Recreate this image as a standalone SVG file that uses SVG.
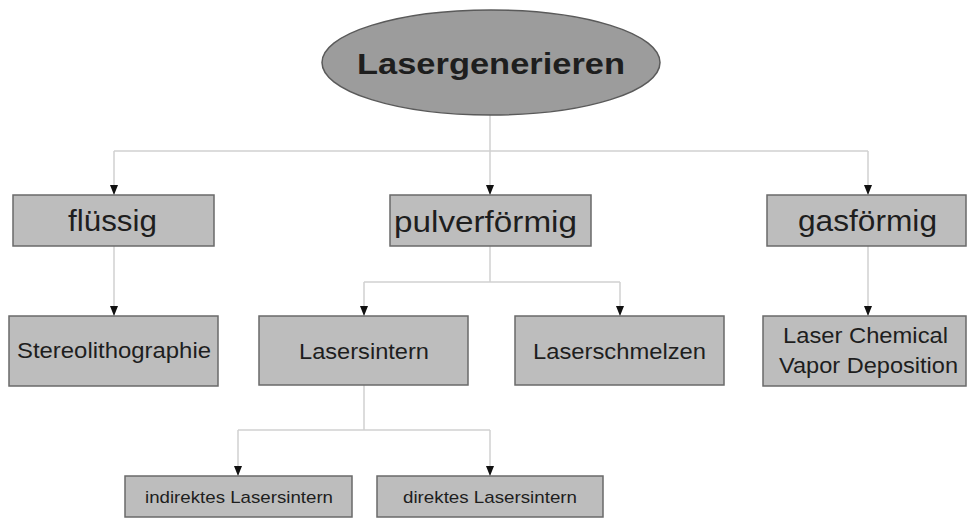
<svg xmlns="http://www.w3.org/2000/svg" width="968" height="518" viewBox="0 0 968 518">
<style>
.box{fill:#bdbdbd;stroke:#6a6a6a;stroke-width:1.5}
.root{fill:#9c9c9c;stroke:#5a5a5a;stroke-width:1.5}
.t{font-family:"Liberation Sans",Arial,sans-serif;fill:#1e1e1e;text-anchor:middle}
.l1{font-size:29px}
.l2{font-size:22px}
.l3{font-size:17px}
.c{fill:none;stroke:#d0d0d0;stroke-width:1.5}
</style>
<defs>
<marker id="ah" viewBox="0 0 10 8" refX="10" refY="4" markerWidth="10" markerHeight="8" markerUnits="userSpaceOnUse" orient="auto">
<path d="M0,0 L10,4 L0,8 z" fill="#111"/>
</marker>
</defs>
<rect width="968" height="518" fill="#fff"/>
<g id="connectors">
<path class="c" d="M490,115 V195" marker-end="url(#ah)"/>
<path class="c" d="M114,151 H868"/>
<path class="c" d="M114,151 V195" marker-end="url(#ah)"/>
<path class="c" d="M868,151 V195" marker-end="url(#ah)"/>
<path class="c" d="M114,246 V316" marker-end="url(#ah)"/>
<path class="c" d="M868,246 V316" marker-end="url(#ah)"/>
<path class="c" d="M490,246 V282"/>
<path class="c" d="M364,282 H620"/>
<path class="c" d="M364,282 V316" marker-end="url(#ah)"/>
<path class="c" d="M620,282 V316" marker-end="url(#ah)"/>
<path class="c" d="M364,385 V430"/>
<path class="c" d="M238,430 H490"/>
<path class="c" d="M238,430 V476" marker-end="url(#ah)"/>
<path class="c" d="M490,430 V476" marker-end="url(#ah)"/>
</g>
<g id="lasergenerieren">
<ellipse class="root" cx="491" cy="62.5" rx="169" ry="52.5"/>
<text class="t" x="491" y="74" font-size="29" font-weight="bold" textLength="268" lengthAdjust="spacingAndGlyphs">Lasergenerieren</text>
</g>
<g id="fluessig">
<rect class="box" x="13" y="195" width="201" height="51"/>
<text class="t l1" x="112.5" y="231" textLength="89" lengthAdjust="spacingAndGlyphs">flüssig</text>
</g>
<g id="pulverfoermig">
<rect class="box" x="390" y="195" width="201" height="51"/>
<text class="t l1" x="485.5" y="232" textLength="183" lengthAdjust="spacingAndGlyphs">pulverförmig</text>
</g>
<g id="gasfoermig">
<rect class="box" x="767" y="195" width="199" height="51"/>
<text class="t l1" x="867.5" y="231" textLength="139" lengthAdjust="spacingAndGlyphs">gasförmig</text>
</g>
<g id="stereolithographie">
<rect class="box" x="9" y="316" width="209" height="70"/>
<text class="t l2" x="114" y="358" textLength="194" lengthAdjust="spacingAndGlyphs">Stereolithographie</text>
</g>
<g id="lasersintern">
<rect class="box" x="259" y="316" width="209" height="69"/>
<text class="t l2" x="364" y="359" textLength="130" lengthAdjust="spacingAndGlyphs">Lasersintern</text>
</g>
<g id="laserschmelzen">
<rect class="box" x="515" y="316" width="209" height="69"/>
<text class="t l2" x="619.5" y="359" textLength="173" lengthAdjust="spacingAndGlyphs">Laserschmelzen</text>
</g>
<g id="lcvd">
<rect class="box" x="763" y="316" width="203" height="70"/>
<text class="t l2" x="865.5" y="343" textLength="165" lengthAdjust="spacingAndGlyphs">Laser Chemical</text>
<text class="t l2" x="868.5" y="373" textLength="179" lengthAdjust="spacingAndGlyphs">Vapor Deposition</text>
</g>
<g id="indirektes-lasersintern">
<rect class="box" x="125" y="476" width="227" height="41"/>
<text class="t l3" x="239" y="503" textLength="188" lengthAdjust="spacingAndGlyphs">indirektes Lasersintern</text>
</g>
<g id="direktes-lasersintern">
<rect class="box" x="377" y="476" width="226" height="41"/>
<text class="t l3" x="490" y="503" textLength="174" lengthAdjust="spacingAndGlyphs">direktes Lasersintern</text>
</g>
</svg>
